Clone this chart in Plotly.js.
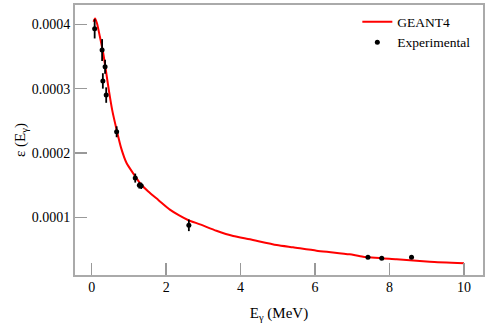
<!DOCTYPE html>
<html>
<head>
<meta charset="utf-8">
<script src="https://cdn.plot.ly/plotly-3.0.1.min.js"></script>
<style>
  html, body { margin: 0; padding: 0; background: #fff; }
  #myPlot { width: 491px; height: 327px; }
</style>
</head>
<body>
<div id="myPlot"></div>
<script>
// GEANT4 simulated efficiency curve
const simEnergy = [0.05, 0.09, 0.14, 0.22, 0.31, 0.38, 0.46, 0.55, 0.67, 0.79, 0.94, 1.12, 1.30, 1.52, 1.79, 2.10, 2.35, 2.6, 2.91, 3.35, 3.80, 4.25, 4.97, 5.41, 6.04, 6.48, 6.93, 7.29, 8.19, 9.08, 10.0];
const simEff = [0.000404, 0.000409, 0.000402, 0.000381, 0.000355, 0.000329, 0.000298, 0.000267, 0.000236, 0.000208, 0.000184, 0.000168, 0.000153, 0.000140, 0.000127, 0.000112, 0.000103, 0.0000955, 0.0000891, 0.0000792, 0.0000710, 0.0000658, 0.0000570, 0.0000534, 0.0000481, 0.0000455, 0.0000425, 0.0000388, 0.0000348, 0.0000311, 0.0000286];

// measured points
const expEnergy = [0.08, 0.28, 0.36, 0.30, 0.39, 0.67, 1.17, 1.28, 1.33, 2.61, 7.42, 7.79, 8.59];
const expEff = [0.000393, 0.000360, 0.000334, 0.000312, 0.000290, 0.000233, 0.000161, 0.0001497, 0.000149, 0.0000876, 0.0000379, 0.0000363, 0.0000379];
const expErr = [0.000015, 0.000017, 0.000011, 0.000012, 0.000012, 0.0000085, 0.000007, 0.000005, 0.000005, 0.000009, 0.000001, 0.000001, 0.000001];

const serif = "Liberation Serif, Times New Roman, serif";

const sim = {
  x: simEnergy,
  y: simEff,
  name: "GEANT4",
  mode: "lines",
  type: "scatter",
  line: { color: "#ff0000", width: 2, shape: "spline", smoothing: 0.6 },
};

const meas = {
  x: expEnergy,
  y: expEff,
  name: "Experimental",
  mode: "markers",
  type: "scatter",
  marker: { color: "#000000", size: 5 },
  error_y: { type: "data", array: expErr, visible: true, color: "#000000", thickness: 1.8, width: 0 },
};

const axisStyle = {
  showline: true,
  mirror: true,
  linecolor: "#aaaaaa",
  linewidth: 2,
  ticks: "inside",
  ticklen: 12,
  tickwidth: 1.5,
  tickcolor: "#999999",
  showgrid: false,
  zeroline: false,
  tickfont: { family: serif, size: 14, color: "#000" },
};

const layout = {
  width: 491,
  height: 327,
  margin: { l: 75, r: 8, t: 5, b: 52 },
  paper_bgcolor: "#fff",
  plot_bgcolor: "#fff",
  showlegend: true,
  legend: {
    x: 0.692, y: 0.995, xanchor: "left", yanchor: "top",
    font: { family: serif, size: 13.5, color: "#000" },
    bgcolor: "rgba(0,0,0,0)",
    tracegroupgap: 0,
  },
  xaxis: Object.assign({}, axisStyle, {
    range: [-0.448, 10.51],
    tickvals: [0, 2, 4, 6, 8, 10],
    ticklabelstandoff: -2,
    title: { text: "E<sub>γ</sub> (MeV)", standoff: 14, font: { family: serif, size: 15, color: "#000" } },
  }),
  yaxis: Object.assign({}, axisStyle, {
    range: [0.0000104, 0.00043],
    tickvals: [0.0001, 0.0002, 0.0003, 0.0004],
    ticktext: ["0.0001", "0.0002", "0.0003", "0.0004"],
    title: { text: "ε (E<sub>γ</sub>)", font: { family: serif, size: 15, color: "#000" } },
  }),
};

const config = { responsive: false, displayModeBar: false, staticPlot: true };

Plotly.newPlot("myPlot", [sim, meas], layout, config);
</script>
</body>
</html>
